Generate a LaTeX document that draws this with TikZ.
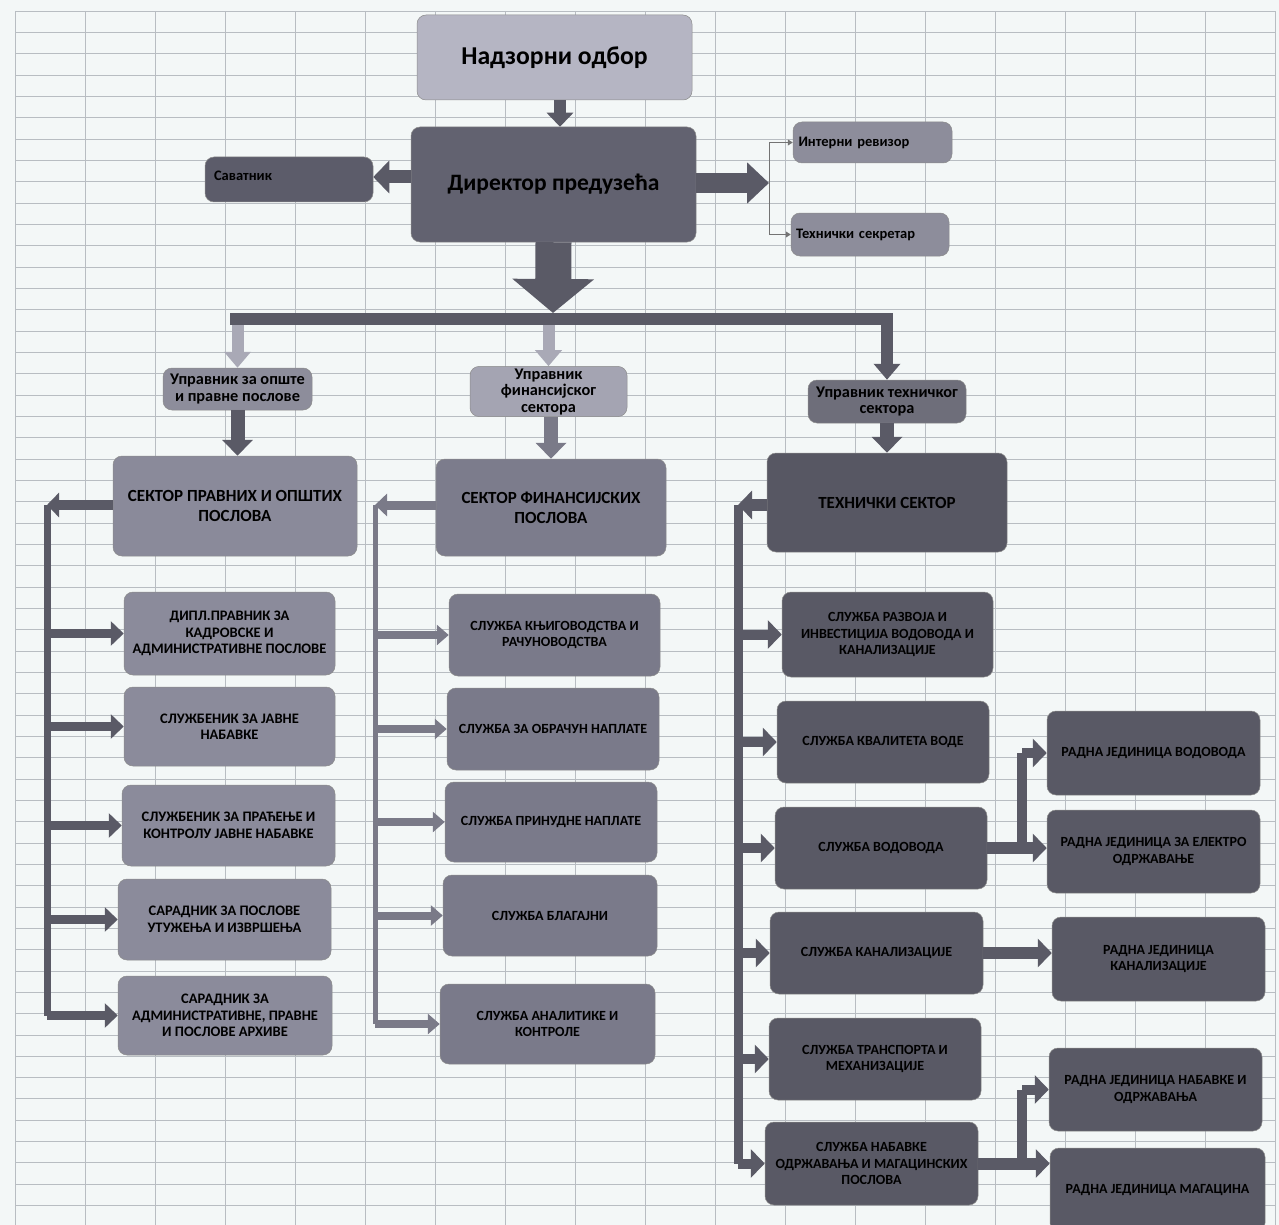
\documentclass[tikz,border=0pt]{standalone}
\usepackage{fontspec}
\setmainfont{Carlito}
\usetikzlibrary{arrows.meta}
\definecolor{bg}{HTML}{F3F7F7}
\definecolor{gridc}{HTML}{B8BDC2}
\definecolor{cNad}{HTML}{B5B5C3}
\definecolor{cDir}{HTML}{626270}
\definecolor{cSav}{HTML}{5C5C6A}
\definecolor{cRev}{HTML}{8D8D9B}
\definecolor{cUpo}{HTML}{8D8D9B}
\definecolor{cUfs}{HTML}{A4A4B2}
\definecolor{cUte}{HTML}{6E6E7A}
\definecolor{cSpo}{HTML}{8A8A9A}
\definecolor{cSfs}{HTML}{7C7C8C}
\definecolor{cTse}{HTML}{575763}
\definecolor{cL}{HTML}{8B8B9B}
\definecolor{cM}{HTML}{7A7A8A}
\definecolor{cR}{HTML}{595965}
\definecolor{cArD}{HTML}{5A5A66}
\definecolor{cArM}{HTML}{7A7A88}
\definecolor{cArL}{HTML}{A9A9B6}
\tikzset{
  box/.style={rounded corners=9pt, inner sep=2pt, align=center, draw=black!45,
    line width=0.5pt, text=black, font=\bfseries\fontsize{14}{16.5}\selectfont},
  lf/.style={font=\bfseries\fontsize{14.5}{16.5}\selectfont},
  mgr/.style={font=\bfseries\fontsize{16.3}{16.5}\selectfont},
  sect/.style={font=\bfseries\fontsize{17}{20}\selectfont},
  small/.style={font=\bfseries\fontsize{14.5}{16}\selectfont},
  sz/.style 2 args={minimum width=#1pt, minimum height=#2pt},
  ar/.style n args={3}{line width=#1pt, -{Triangle[width=#2pt,length=#3pt]}},
  gridline/.style={draw=gridc, line width=0.7pt},
  thinar/.style={draw=black!55, line width=0.9pt, -{Triangle[width=6pt,length=5pt]}},
}
\begin{document}
\begin{tikzpicture}[x=1pt,y=-1pt]
\fill[bg] (0,0) rectangle (1279,1225);
\useasboundingbox (0,0) rectangle (1279,1225);
% grid
\foreach \x in {15,85,...,1275} \draw[gridline] (\x,11) -- (\x,1225);
\foreach \i in {0,...,56} \draw[gridline] (15,11+\i*21.33) -- (1275,11+\i*21.33);

% top nodes
\node[box, sz={275}{85}, fill=cNad, font=\bfseries\fontsize{25.7}{30}\selectfont] (nad) at (554.5,57.5) {Надзорни одбор};
\node[box, sz={285}{115}, fill=cDir, font=\bfseries\fontsize{23.5}{27}\selectfont] (dir) at (553.5,184.5) {Директор предузећа};
\node[box, sz={168}{45}, fill=cSav, small, text width=150pt, align=left] (sav) at (289,179.5) {\raisebox{8pt}{Саватник}};
\node[box, sz={159}{41}, fill=cRev, small, text width=148pt, align=left] (rev) at (872.5,142.5) {Интерни ревизор};
\node[box, sz={158}{43}, fill=cRev, small, text width=148pt, align=left] (sek) at (870,234.5) {Технички секретар};

% managers
\node[box, sz={149}{42}, fill=cUpo, mgr] (upo) at (237.5,389) {Управник за опште\\и правне послове};
\node[box, sz={157}{43}, fill=cUfs, mgr] (ufs) at (548.5,391.5) {Управник\\финансијског\\сектора};
\node[box, sz={158}{43}, fill=cUte, mgr] (ute) at (887,401.5) {Управник техничког\\сектора};

% sectors
\node[box, sz={244}{100}, fill=cSpo, sect] (spo) at (235,506) {СЕКТОР ПРАВНИХ И ОПШТИХ\\ПОСЛОВА};
\node[box, sz={230}{97}, fill=cSfs, sect] (sfs) at (551,507.5) {СЕКТОР ФИНАНСИЈСКИХ\\ПОСЛОВА};
\node[box, sz={240}{99}, fill=cTse, sect] (tse) at (887,502.5) {ТЕХНИЧКИ СЕКТОР};

% left column
\node[box, sz={211}{83}, fill=cL, lf] (l1) at (229.5,633.5) {ДИПЛ.ПРАВНИК ЗА\\КАДРОВСКЕ И\\АДМИНИСТРАТИВНЕ ПОСЛОВЕ};
\node[box, sz={211}{79}, fill=cL, lf] (l2) at (229.5,726.5) {СЛУЖБЕНИК ЗА ЈАВНЕ\\НАБАВКЕ};
\node[box, sz={213}{81}, fill=cL, lf] (l3) at (228.5,825.5) {СЛУЖБЕНИК ЗА ПРАЋЕЊЕ И\\КОНТРОЛУ ЈАВНЕ НАБАВКЕ};
\node[box, sz={213}{81}, fill=cL, lf] (l4) at (224.5,919.5) {САРАДНИК ЗА ПОСЛОВЕ\\УТУЖЕЊА И ИЗВРШЕЊА};
\node[box, sz={214}{79}, fill=cL, lf] (l5) at (225,1015.5) {САРАДНИК ЗА\\АДМИНИСТРАТИВНЕ, ПРАВНЕ\\И ПОСЛОВЕ АРХИВЕ};

% middle column
\node[box, sz={211}{82}, fill=cM] (m1) at (554.5,635) {СЛУЖБА КЊИГОВОДСТВА И\\РАЧУНОВОДСТВА};
\node[box, sz={212}{82}, fill=cM] (m2) at (553,729) {СЛУЖБА ЗА ОБРАЧУН НАПЛАТЕ};
\node[box, sz={212}{80}, fill=cM] (m3) at (551,822) {СЛУЖБА ПРИНУДНЕ НАПЛАТЕ};
\node[box, sz={214}{81}, fill=cM] (m4) at (550,915.5) {СЛУЖБА БЛАГАЈНИ};
\node[box, sz={215}{80}, fill=cM] (m5) at (547.5,1024) {СЛУЖБА АНАЛИТИКЕ И\\КОНТРОЛЕ};

% right column
\node[box, sz={211}{85}, fill=cR] (r1) at (887.5,634.5) {СЛУЖБА РАЗВОЈА И\\ИНВЕСТИЦИЈА ВОДОВОДА И\\КАНАЛИЗАЦИЈЕ};
\node[box, sz={212}{82}, fill=cR] (r2) at (883,742) {СЛУЖБА КВАЛИТЕТА ВОДЕ};
\node[box, sz={212}{82}, fill=cR] (r3) at (881,848) {СЛУЖБА ВОДОВОДА};
\node[box, sz={213}{82}, fill=cR] (r4) at (876.5,953) {СЛУЖБА КАНАЛИЗАЦИЈЕ};
\node[box, sz={212}{82}, fill=cR] (r5) at (875,1059) {СЛУЖБА ТРАНСПОРТА И\\МЕХАНИЗАЦИЈЕ};
\node[box, sz={213}{83}, fill=cR] (r6) at (871.5,1163.5) {СЛУЖБА НАБАВКЕ\\ОДРЖАВАЊА И МАГАЦИНСКИХ\\ПОСЛОВА};

% far right
\node[box, sz={213}{84}, fill=cR] (f1) at (1153.5,753) {РАДНА ЈЕДИНИЦА ВОДОВОДА};
\node[box, sz={213}{83}, fill=cR] (f2) at (1153.5,851.5) {РАДНА ЈЕДИНИЦА ЗА ЕЛЕКТРО\\ОДРЖАВАЊЕ};
\node[box, sz={213}{84}, fill=cR] (f3) at (1158.5,959) {РАДНА ЈЕДИНИЦА\\КАНАЛИЗАЦИЈЕ};
\node[box, sz={213}{83}, fill=cR] (f4) at (1155.5,1089.5) {РАДНА ЈЕДИНИЦА НАБАВКЕ И\\ОДРЖАВАЊА};
\node[box, sz={215}{84}, fill=cR] (f5) at (1157.5,1190) {РАДНА ЈЕДИНИЦА МАГАЦИНА};

% coordinates
\coordinate (tip) at (769,183);
\coordinate (bus) at (553,313);
\coordinate (busL) at (230,319);
\coordinate (busR) at (893,319);
\coordinate (c1) at (47,505);
\coordinate (c2) at (375,505);
\coordinate (c3) at (738,505);
\coordinate (j1) at (1022,848);
\coordinate (j2) at (1022,1163);

% top connectors
\draw[ar={12}{26}{14}, draw=cArD] (nad.south -| 560,0) -- (dir.north -| 560,0);
\draw[ar={13}{32}{16}, draw=cArD] (dir.west |- 0,177) -- (sav.east |- 0,177);
\draw[ar={20}{40}{22}, draw=cArD] (dir.east |- tip) -- (tip);
\draw[thinar] (tip) |- (rev.west);
\draw[thinar] (tip) |- (sek.west);
\draw[ar={36}{80}{34}, draw=cArD] (dir.south) -- (bus);
\draw[line width=12pt, draw=cArD] (busL) -- (busR);
\draw[ar={12}{26}{16}, draw=cArL] (upo.north |- 0,325) -- (upo.north);
\draw[ar={12}{26}{16}, draw=cArL] (ufs.north |- 0,325) -- (ufs.north);
\draw[ar={12}{26}{16}, draw=cArD] (ute.north |- 0,313) -- (ute.north);
\draw[ar={14}{30}{16}, draw=cArD] (upo.south) -- (upo.south |- spo.north);
\draw[ar={14}{30}{16}, draw=cArM] (sfs.north |- ufs.south) -- (sfs.north);
\draw[ar={14}{30}{16}, draw=cArD] (ute.south) -- (tse.north);

% left tree
\draw[ar={10}{24}{12}, draw=cArD] (spo.west |- c1) -- (c1);
\draw[line width=7pt, draw=cArD] (c1) -- (c1 |- l5);
\foreach \n in {l1,l2,l3,l4,l5}
  \draw[ar={9}{24}{13}, draw=cArD] (c1 |- \n) -- (\n.west);

% middle tree
\draw[ar={9}{22}{12}, draw=cArM] (sfs.west |- c2) -- (c2);
\draw[line width=5pt, draw=cArM] (c2) -- (c2 |- m5);
\foreach \n in {m1,m2,m3,m4,m5}
  \draw[ar={8}{20}{12}, draw=cArM] (c2 |- \n) -- (\n.west);

% right tree
\draw[ar={12}{28}{14}, draw=cArD] (tse.west |- c3) -- (c3);
\draw[line width=9pt, draw=cArD] (c3) -- (c3 |- r6);
\foreach \n in {r1,r2,r3,r4,r5,r6}
  \draw[ar={10}{28}{14}, draw=cArD] (c3 |- \n) -- (\n.west);

% sub-branches
\draw[ar={12}{28}{14}, draw=cArD] (r3.east) -- (r3.east -| f2.west);
\draw[line width=10pt, draw=cArD] (j1) -- (j1 |- f1);
\draw[ar={10}{28}{14}, draw=cArD] (j1 |- f1) -- (f1.west);
\draw[ar={12}{28}{14}, draw=cArD] (r4.east) -- (r4.east -| f3.west);
\draw[ar={12}{28}{14}, draw=cArD] (r6.east) -- (r6.east -| f5.west);
\draw[line width=10pt, draw=cArD] (j2) -- (j2 |- f4);
\draw[ar={10}{28}{14}, draw=cArD] (j2 |- f4) -- (f4.west);
\end{tikzpicture}
\end{document}
